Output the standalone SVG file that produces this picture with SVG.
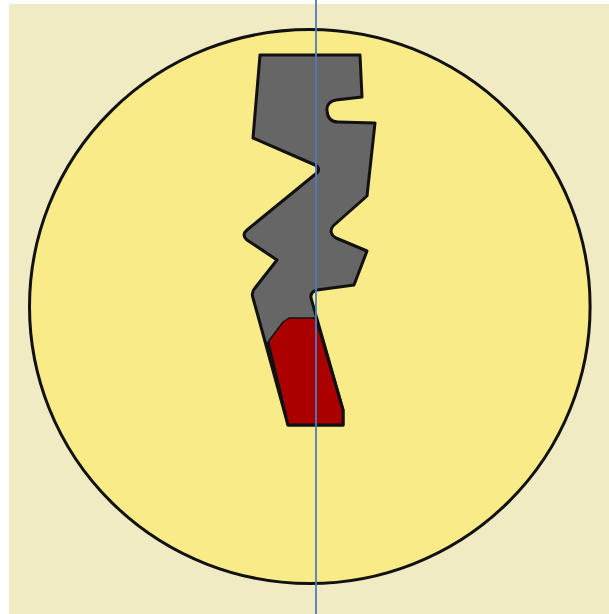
<svg xmlns="http://www.w3.org/2000/svg" width="609" height="614" viewBox="0 0 609 614">
<style>
.outline{stroke:#111;stroke-width:3;stroke-linejoin:round}
</style>
<rect x="0" y="0" width="609" height="614" fill="#ffffff"/>
<rect id="background" x="9" y="4" width="600" height="610" fill="#f1ebc3"/>
<g id="circle"><ellipse cx="309.8" cy="306.5" rx="280.3" ry="277" fill="#f9eb87" class="outline"/></g>
<g id="gray-shape"><path class="outline" fill="#666666" d="M260,55 L360,55 L362,97 L336,100 Q326,102 327,111 Q328,122 338,122 L375,123 L367,196 L333,226 Q328,233 336,238 L367,251 L354,285 L317,290 Q310,292 311,298 L343,410 L343,425 L288,425 L253,298 Q251,292 255,288 L277,260 L247,240 Q241,235 247,230 L318,172 Q320,167 315,165 L253,138 Z"/></g>
<g id="red-shape"><path fill="#aa0000" stroke="#111" stroke-width="1.5" stroke-linejoin="round" d="M268,342 L283,322 L289,318 L316,318 L343,410 L343,425 L288,425 Z"/>
<path fill="none" class="outline" d="M268,342 L288,425 L343,425 L343,410 L316,318"/></g>
<g id="connectors"><line x1="316" y1="0" x2="316" y2="614" stroke="#4a7fc1" stroke-width="1.8"/></g>
</svg>
